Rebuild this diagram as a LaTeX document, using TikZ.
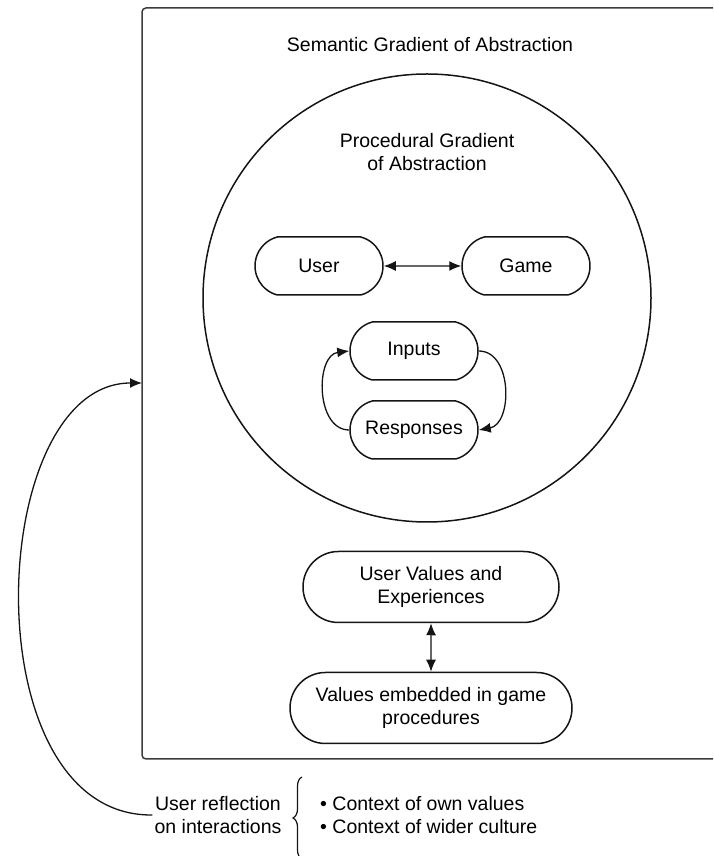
\documentclass[tikz,border=0pt]{standalone}
\usepackage{fontspec}
\setmainfont{Liberation Sans}
\usetikzlibrary{arrows.meta,decorations.pathreplacing,shapes.misc}
\definecolor{LineClr}{RGB}{20,20,20}
\definecolor{FrameClr}{RGB}{60,60,60}

\begin{document}
\begin{tikzpicture}[x=1pt,y=1pt,
  txt/.style={font=\fontsize{19.5}{23.4}\selectfont,align=center,inner sep=2pt},
  pill/.style={txt,draw=LineClr,line width=1.5pt,rounded rectangle,
    rounded rectangle arc length=150,
    minimum width=128pt,minimum height=58pt,inner sep=0pt},
  bigpill/.style={pill,rounded rectangle arc length=180,minimum height=71pt},
  arr/.style={line width=1.3pt,draw=LineClr,-{Latex[length=12pt,width=10pt]}},
  darr/.style={arr,{Latex[length=12pt,width=10pt]}-{Latex[length=12pt,width=10pt]}}]
\useasboundingbox (0,0) rectangle (713,856);
\clip (0,0) rectangle (713,856);

% outer frame and circle
\draw[line width=1.5pt,draw=FrameClr,rounded corners=4pt] (142,97) rectangle (740,848);
\draw[line width=1.5pt,draw=LineClr] (427,558) circle (224);
\coordinate (hit) at (142,473);

\node[txt] (sem) at (430,811) {Semantic Gradient of Abstraction};
\node[txt] (proc) at (427,704) {Procedural Gradient\\of Abstraction};

% inner loop
\node[pill] (user) at (319,590) {User};
\node[pill] (game) at (526,590) {Game};
\node[pill] (inp) at (414,505) {Inputs};
\node[pill] (resp) at (414,426) {Responses};

\draw[darr] (user) -- (game);
\draw[arr] (resp.west) .. controls +(-34,0) and +(-34,-4) .. (inp.west);
\draw[arr] (inp.east) .. controls +(34,0) and +(34,6) .. (resp.east);

% values
\node[bigpill,minimum width=256pt] (uve) at (431,269) {User Values and\\Experiences};
\node[bigpill,minimum width=282pt] (vegp) at (431,148) {Values embedded in game\\procedures};
\draw[darr] (uve) -- (vegp);

% reflection
\node[txt] (refl) at (218,41) {User reflection\\on interactions};
\draw[line width=1.2pt,draw=LineClr,decorate,decoration={brace,amplitude=9pt}]
  (302,-3) -- (302,79);
\node[txt,anchor=west,align=left] (ctx) at (318,41) {\textbullet\ Context of own values\\\textbullet\ Context of wider culture};
\draw[arr] (refl.west) .. controls (-30,39) and (-15,473) .. (hit);
\end{tikzpicture}
\end{document}
